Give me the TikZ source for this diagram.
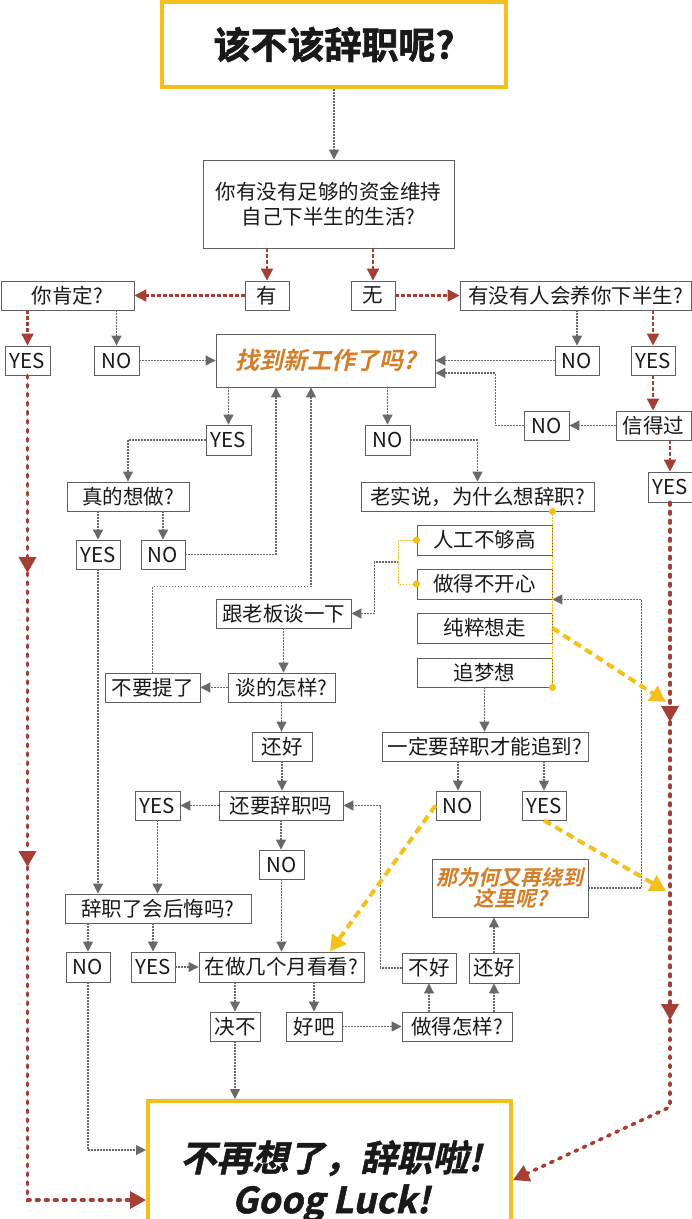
\documentclass[tikz,border=0pt]{standalone}
\usepackage{fontspec}
\setmainfont{Noto Sans CJK SC}
\newfontfamily\bfcjk{Noto Sans CJK SC Bold}[FakeBold=1.6]
\newfontfamily\slcjk{Noto Sans CJK SC Bold}[FakeSlant=0.22]
\newfontfamily\slbcjk{Noto Sans CJK SC Bold}[FakeSlant=0.22,FakeBold=1.4]
\usetikzlibrary{arrows.meta,calc}
\definecolor{boxc}{RGB}{95,95,95}
\definecolor{lc}{RGB}{105,105,105}
\definecolor{rc}{RGB}{165,62,52}
\definecolor{yc}{RGB}{244,192,30}
\definecolor{orc}{RGB}{212,126,42}
\definecolor{txt}{RGB}{25,25,25}
\tikzset{
 bx/.style={draw=boxc, fill=white, line width=0.9pt, inner sep=0pt, align=center, font=\fontsize{20.5}{24}\selectfont, text=txt, minimum height=29pt},
 garr/.style={draw=lc, line width=1.1pt, dash pattern=on 1.6pt off 1.4pt, -{Triangle[width=10pt,length=10pt]}},
 rarr/.style={draw=rc, line width=2.2pt, dash pattern=on 3.5pt off 2.5pt, -{Triangle[width=12pt,length=12pt]}},
 rbig/.style={draw=rc, line width=3.6pt, line cap=round, dash pattern=on 2.6pt off 6.4pt, -{Triangle[width=17pt,length=16pt]}},
 yarr/.style={draw=yc, line width=4pt, dash pattern=on 8pt off 5pt, -{Triangle[width=17pt,length=16pt]}},
 ydot/.style={draw=yc, line width=1pt, dash pattern=on 1.5pt off 1.5pt},
}
\begin{document}
\begin{tikzpicture}[x=1pt,y=-1pt]
\fill[white] (0,0) rectangle (692,1219);
\useasboundingbox (0,0) rectangle (692,1219);
% ---- nodes ----
\node[bx, draw=yc, line width=4pt, minimum width=344pt, minimum height=85pt, font=\bfcjk\fontsize{37}{44}\selectfont] (title) at (334,44.5) {该不该辞职呢?};
\node[bx, minimum width=251pt, minimum height=88pt, font=\fontsize{20.5}{25}\selectfont] (q1) at (328.5,204) {你有没有足够的资金维持\\自己下半生的生活?};
\node[bx, minimum width=44pt] (you) at (267,295.5) {有};
\node[bx, minimum width=44pt] (wu) at (373,295.5) {无};
\node[bx, minimum width=133pt] (sure) at (67.5,295.5) {你肯定?};
\node[bx, minimum width=231pt] (raise) at (575.5,295.5) {有没有人会养你下半生?};
\node[bx, minimum width=45pt] (yesL) at (27.5,360.5) {YES};
\node[bx, minimum width=45pt] (noL) at (116.5,360.5) {NO};
\node[bx, minimum width=219pt, minimum height=53pt, text=orc, font=\slcjk\fontsize{24}{28}\selectfont] (find) at (325.5,360.5) {找到新工作了吗?};
\node[bx, minimum width=44pt] (noR) at (577,360.5) {NO};
\node[bx, minimum width=44pt] (yesR) at (653,360.5) {YES};
\node[bx, minimum width=75pt] (trust) at (653.5,425.5) {信得过};
\node[bx, minimum width=45pt] (noT) at (546.5,425.5) {NO};
\node[bx, minimum width=44pt, minimum height=30pt] (yesT) at (670,487) {YES};
\node[bx, minimum width=45pt, minimum height=30pt] (yesF) at (228.5,440) {YES};
\node[bx, minimum width=45pt, minimum height=30pt] (noF) at (387.5,440) {NO};
\node[bx, minimum width=122pt] (want) at (128,496.5) {真的想做?};
\node[bx, minimum width=233pt] (why) at (477.5,496.5) {老实说，为什么想辞职?};
\node[bx, minimum width=44pt] (yesW) at (98,554.5) {YES};
\node[bx, minimum width=44pt] (noW) at (163,554.5) {NO};
\node[bx, minimum width=135pt, minimum height=30pt] (r1) at (484.5,540) {人工不够高};
\node[bx, minimum width=135pt, minimum height=30pt] (r2) at (484.5,584) {做得不开心};
\node[bx, minimum width=135pt, minimum height=30pt] (r3) at (484.5,628) {纯粹想走};
\node[bx, minimum width=135pt] (r4) at (484.5,672.5) {追梦想};
\node[bx, minimum width=135pt] (boss) at (283.5,613.5) {跟老板谈一下};
\node[bx, minimum width=95pt] (forget) at (152.5,687.5) {不要提了};
\node[bx, minimum width=107pt] (talk) at (281.5,687.5) {谈的怎样?};
\node[bx, minimum width=60pt] (ok1) at (282,746.5) {还好};
\node[bx, minimum width=206pt] (must) at (485,746.5) {一定要辞职才能追到?};
\node[bx, minimum width=124pt] (still) at (281,805.5) {还要辞职吗};
\node[bx, minimum width=45pt] (yesS) at (157.5,805.5) {YES};
\node[bx, minimum width=44pt] (noM) at (458,805.5) {NO};
\node[bx, minimum width=44pt] (yesM) at (544,805.5) {YES};
\node[bx, minimum width=45pt] (noS) at (281.5,864.5) {NO};
\node[bx, minimum width=156pt, minimum height=58pt, text=orc, font=\slcjk\fontsize{21}{21}\selectfont] (again) at (510,888) {那为何又再绕到\\这里呢?};
\node[bx, minimum width=186pt] (regret) at (158,908.5) {辞职了会后悔吗?};
\node[bx, minimum width=44pt, minimum height=30pt] (noRg) at (88,967) {NO};
\node[bx, minimum width=44pt, minimum height=30pt] (yesRg) at (153,967) {YES};
\node[bx, minimum width=165pt, minimum height=30pt] (months) at (281.5,967) {在做几个月看看?};
\node[bx, minimum width=54pt, minimum height=30pt] (bad) at (429,968) {不好};
\node[bx, minimum width=50pt, minimum height=30pt] (ok2) at (494,968) {还好};
\node[bx, minimum width=50pt] (never) at (235,1026.5) {决不};
\node[bx, minimum width=56pt] (fine) at (314,1026.5) {好吧};
\node[bx, minimum width=110pt] (how) at (457,1026.5) {做得怎样?};
\node[bx, draw=yc, line width=4pt, minimum width=363pt, minimum height=140pt] (final) at (329.5,1171) {};
\node[inner sep=0pt, align=center, text=txt, font=\slbcjk\fontsize{36}{42}\selectfont] (finalt) at (331,1181) {不再想了，辞职啦!\\Goog Luck!};
% ---- gray connectors ----
\draw[garr] (title.south) -- (title.south |- q1.north);
\draw[garr] (noL.east) -- (find.west);
\draw[garr] (noR.west) -- (find.east);
\draw[garr] (trust.west) -- (noT.east);
\draw[garr] (noT.west) -- ++(-28,0) |- ([yshift=-12.5pt]find.east);
\draw[garr] (noL.north |- sure.south) -- (noL.north);
\draw[garr] (noR.north |- raise.south) -- (noR.north);
\draw[garr] (yesF.north |- find.south) -- (yesF.north);
\draw[garr] (noF.north |- find.south) -- (noF.north);
\draw[garr] (yesF.west) -| (want.north);
\draw[garr] (noF.east) -| (why.north);
\draw[garr] (yesW.north |- want.south) -- (yesW.north);
\draw[garr] (noW.north |- want.south) -- (noW.north);
\draw[garr] (noW.east) -| ([xshift=-49.5pt]find.south);
\draw[garr] (forget.north) -- ++(0,-86) -| ([xshift=-14.5pt]find.south);
\coordinate (brk) at ($(r1.west)!0.5!(r2.west)+(-18,0)$);
\draw[garr] (brk) -- ++(-24,0) |- (boss.east);
\draw[garr] (boss.south) -- (boss.south |- talk.north);
\draw[garr] (talk.west) -- (forget.east);
\draw[garr] (talk.south) -- (talk.south |- ok1.north);
\draw[garr] (ok1.south) -- (ok1.south |- still.north);
\draw[garr] (still.west) -- (yesS.east);
\draw[garr] (still.south) -- (still.south |- noS.north);
\draw[garr] (r4.south) -- (r4.south |- must.north);
\draw[garr] (noM.north |- must.south) -- (noM.north);
\draw[garr] (yesM.north |- must.south) -- (yesM.north);
\draw[garr] (again.east) -- ++(53,0) |- (r2.south east);
\draw[garr] (yesW.south) -- (yesW.south |- regret.north);
\draw[garr] (yesS.south) -- (yesS.south |- regret.north);
\draw[garr] (noRg.north |- regret.south) -- (noRg.north);
\draw[garr] (yesRg.north |- regret.south) -- (yesRg.north);
\draw[garr] (yesRg.east) -- (months.west);
\draw[garr] (noS.south) -- (noS.south |- months.north);
\draw[garr] (never.north |- months.south) -- (never.north);
\draw[garr] (fine.north |- months.south) -- (fine.north);
\draw[garr] (fine.east) -- (how.west);
\draw[garr] (bad.south |- how.north) -- (bad.south);
\draw[garr] (ok2.south |- how.north) -- (ok2.south);
\draw[garr] (ok2.north) -- (ok2.north |- again.south);
\draw[garr] (bad.west) -- ++(-21,0) |- (still.east);
\draw[garr] (never.south) -- (never.south |- final.north);
\draw[garr] (noRg.south) |- ([yshift=21pt]final.west);
% ---- red connectors ----
\draw[rarr] (you.north |- q1.south) -- (you.north);
\draw[rarr] (wu.north |- q1.south) -- (wu.north);
\draw[rarr] (you.west) -- (sure.east);
\draw[rarr] (wu.east) -- (raise.west);
\draw[rarr] (yesL.north |- sure.south) -- (yesL.north);
\draw[rarr] (yesR.north |- raise.south) -- (yesR.north);
\draw[rarr] (yesR.south) -- (yesR.south |- trust.north);
\draw[rarr] (yesT.north |- trust.south) -- (yesT.north);
\coordinate (lr1) at (27.5,573);
\coordinate (lr2) at (27.5,867);
\draw[rbig] (yesL.south) -- (lr1);
\draw[rbig] (lr1) -- (lr2);
\draw[rbig] (lr2) |- ([yshift=-29pt]final.west);
\coordinate (rr1) at (670,722);
\coordinate (rr2) at (670,1020);
\coordinate (rr3) at (670,1107);
\draw[rbig] (yesT.south) -- (rr1);
\draw[rbig] (rr1) -- (rr2);
\draw[rbig] (rr2) -- (rr3) -- ([yshift=-9pt]final.east);
% ---- yellow ----
\draw[ydot] (r1.west) -- ++(-18,0) |- (r2.west);
\draw[ydot] (r1.east |- why.south) -- (r4.south east);
\fill[yc] (r1.west) circle (3.6pt);
\fill[yc] (r2.west) circle (3.6pt);
\fill[yc] (r1.east |- why.south) circle (3.6pt);
\fill[yc] (r4.south east) circle (3.6pt);
\coordinate (ry1) at (666,702);
\coordinate (ry2) at (666,891);
\draw[yarr] (r3.east) -- (ry1);
\draw[yarr] (yesM.south) -- (ry2);
\draw[yarr] (noM.west) -- ([xshift=48.5pt]months.north);
\end{tikzpicture}
\end{document}
